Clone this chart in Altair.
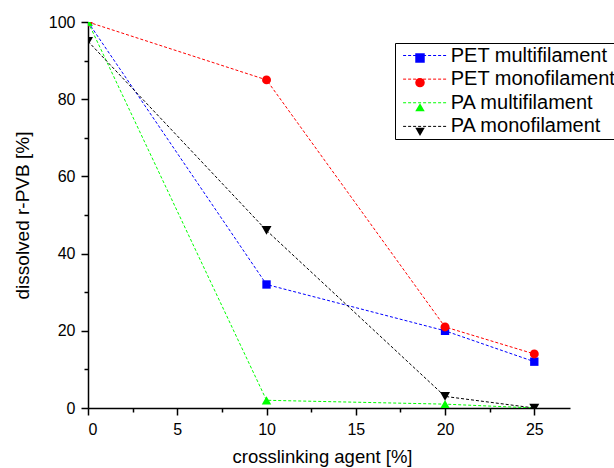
import altair as alt
import pandas as pd

series_names = ["PET multifilament", "PET monofilament", "PA multifilament", "PA monofilament"]
agent = [0, 10, 20, 25]
pet_multi = [100, 32, 20, 12]
pet_mono = [100, 85, 21, 14]
pa_multi = [100, 2, 1, 0]
pa_mono = [95, 46, 3, 0]
colors = ["#0000ff", "#ff0000", "#00ff00", "#000000"]
shapes = ["square", "circle", "triangle-up", "triangle-down"]
marker_sizes = [70, 100, 100, 100]
x_ticks = [0, 2.5, 5, 7.5, 10, 12.5, 15, 17.5, 20, 22.5, 25]
y_ticks = [0, 10, 20, 30, 40, 50, 60, 70, 80, 90, 100]

rows = []
for name, vals in zip(series_names, [pet_multi, pet_mono, pa_multi, pa_mono]):
    for a, v in zip(agent, vals):
        rows.append({"agent": a, "dissolved": v, "series": name, "key": name + " "})
df = pd.DataFrame(rows)
marker_keys = [s + " " for s in series_names]

FONT = "Liberation Sans"

x_enc = alt.X(
    "agent:Q",
    scale=alt.Scale(domain=[0, 27], nice=False, zero=False),
    axis=alt.Axis(
        values=x_ticks,
        labelExpr="datum.value % 5 == 0 ? datum.label : ''",
        title="crosslinking agent [%]",
        grid=False,
        tickSize={"condition": {"test": "datum.value % 5 == 0", "value": 7}, "value": 4},
        labelPadding=6,
        titlePadding=10.5,
        titleFontSize=18.5,
        titleX=234,
        titleAlign="center",
    ),
)
y_enc = alt.Y(
    "dissolved:Q",
    scale=alt.Scale(domain=[0, 100], nice=False),
    axis=alt.Axis(
        values=y_ticks,
        labelExpr="datum.value % 20 == 0 ? datum.label : ''",
        title="dissolved r-PVB [%]",
        grid=False,
        tickSize={"condition": {"test": "datum.value % 20 == 0", "value": 7}, "value": 4},
        labelPadding=6,
        titlePadding=16,
    ),
)

lines = alt.Chart(df).mark_line(strokeDash=[3, 2], strokeWidth=1, clip=True).encode(
    x=x_enc,
    y=y_enc,
    stroke=alt.Stroke(
        "series:N",
        scale=alt.Scale(domain=series_names, range=colors),
        legend=alt.Legend(
            title=None, orient="none", legendX=307, legendY=21,
            symbolType="M-1,0H9", symbolSize=77.44, symbolDash=[3, 2], symbolStrokeWidth=1,
            labelFontSize=20, labelFont=FONT, labelColor="black", labelOffset=33.2,
            labelLimit=400, padding=2.5, rowPadding=3.63,
            strokeColor="black", fillColor="white", zindex=0,
        ),
    ),
)

marker_legend = alt.Legend(
    title=None, orient="none", legendX=327, legendY=31,
    labelExpr="''", symbolSize=90, symbolStrokeWidth=0, padding=0, rowPadding=14.63,
    zindex=1,
)
points = alt.Chart(df).mark_point(filled=True, opacity=1, clip=True).encode(
    x=x_enc,
    y=y_enc,
    color=alt.Color("key:N", scale=alt.Scale(domain=marker_keys, range=colors), legend=marker_legend),
    shape=alt.Shape("key:N", scale=alt.Scale(domain=marker_keys, range=shapes), legend=marker_legend),
    size=alt.Size("key:N", scale=alt.Scale(domain=marker_keys, range=marker_sizes), legend=None),
)

chart = (
    alt.layer(lines, points)
    .resolve_scale(color="independent", shape="independent")
    .properties(
        width=482,
        height=386,
        autosize=alt.AutoSizeParams(type="none"),
        padding={"left": 88, "top": 22, "right": 44, "bottom": 60},
        background="white",
    )
    .configure_view(stroke=None)
    .configure_axis(
        labelFont=FONT, labelFontSize=16, labelColor="black",
        titleFont=FONT, titleFontSize=19, titleFontWeight="normal", titleColor="black",
        domainColor="black", domainWidth=1.5, tickColor="black", tickWidth=1.5,
    )
)

chart.save("out.html", embed_options={"renderer": "svg", "actions": False})
